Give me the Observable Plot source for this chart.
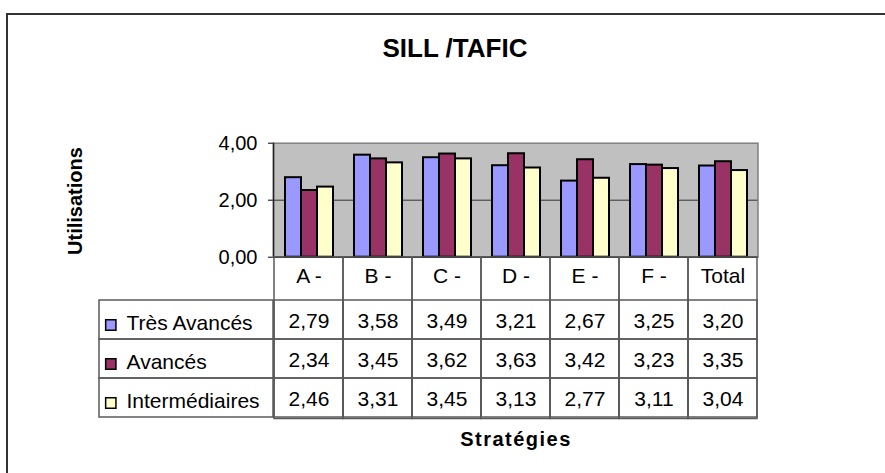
<!DOCTYPE html>
<html>
<head>
<meta charset="utf-8">
<script src="https://cdn.jsdelivr.net/npm/d3@7"></script>
<script src="https://cdn.jsdelivr.net/npm/@observablehq/plot@0.6"></script>
<style>
  html, body { margin: 0; padding: 0; background: #fff; }
  #chart { position: relative; width: 885px; height: 473px; overflow: hidden; background: #fff;
           font-family: 'Liberation Sans', Arial, sans-serif; color: #000; }
  #chart > * { position: absolute; }
  .frameborder { left: 6px; top: 12.7px; width: 900px; height: 500px;
                 border-left: 2px solid #333; border-top: 2px solid #333; box-sizing: border-box; }
  .title { left: 355px; width: 200px; top: 34.7px; text-align: center; font-weight: bold;
           font-size: 26px; line-height: 26px; white-space: nowrap; }
  .ylabel { left: -5px; top: 190.8px; width: 160px; height: 20px; line-height: 20px; text-align: center;
            font-weight: bold; font-size: 20px; transform: rotate(-90deg); transform-origin: 50% 50%; white-space: nowrap; }
  .xlabel { left: 416px; width: 200px; top: 428.8px; text-align: center; font-weight: bold;
            font-size: 20px; line-height: 20px; letter-spacing: 1.5px; white-space: nowrap; }
</style>
</head>
<body>
<div id="chart">
  <div class="frameborder"></div>
  <div class="title">SILL /TAFIC</div>
  <div class="ylabel">Utilisations</div>
  <div class="xlabel">Stratégies</div>
</div>
<script>
const categories = ["A -", "B -", "C -", "D -", "E -", "F -", "Total"];
const series = ["Très Avancés", "Avancés", "Intermédiaires"];
const tresAvances = [2.79, 3.58, 3.49, 3.21, 2.67, 3.25, 3.20];
const avances = [2.34, 3.45, 3.62, 3.63, 3.42, 3.23, 3.35];
const intermediaires = [2.46, 3.31, 3.45, 3.13, 2.77, 3.11, 3.04];
const seriesColors = ["#9999FF", "#993366", "#FFFFCC"];
const yTicks = [0, 2, 4];
const yDomain = [0, 4];

const seriesValues = [tresAvances, avances, intermediaires];
const rows = categories.flatMap((cat, i) =>
  series.map((s, j) => ({cat, series: s, value: seriesValues[j][i]})));
const fmt = v => v.toFixed(2).replace(".", ",");

const W = 885;
const chartH = 300;
const M = {left: 273, right: 127.5, top: 142.7, bottom: 43.3};
const baseStyle = {background: "transparent", fontFamily: "'Liberation Sans', Arial, sans-serif",
                   fontSize: "20px", color: "#000", overflow: "visible"};
const chart = document.getElementById("chart");

// Plot area background, grid, axes
const bg = Plot.plot({
  width: W, height: chartH,
  marginLeft: M.left, marginRight: M.right, marginTop: M.top, marginBottom: M.bottom,
  style: baseStyle,
  x: {domain: [0, 1], axis: null},
  y: {domain: yDomain, ticks: yTicks, tickSize: 5, tickPadding: 11, tickFormat: fmt, label: null},
  marks: [
    Plot.frame({fill: "#C0C0C0", stroke: "#808080", strokeWidth: 1.5}),
    Plot.ruleY([2], {stroke: "#333", strokeWidth: 1}),
    Plot.ruleY([0], {stroke: "#222", strokeWidth: 1.5}),
    Plot.ruleX([0], {stroke: "#222", strokeWidth: 1.5})
  ]
});
bg.style.left = "0px"; bg.style.top = "0px";
chart.appendChild(bg);

// Grouped bars
const bars = Plot.plot({
  width: W, height: chartH,
  marginLeft: M.left, marginRight: M.right, marginTop: M.top, marginBottom: M.bottom,
  style: baseStyle,
  fx: {domain: categories, padding: 0, axis: null},
  x: {domain: series, paddingInner: 0, paddingOuter: 0.6, axis: null},
  y: {domain: yDomain, axis: null},
  color: {domain: series, range: seriesColors},
  marks: [
    Plot.barY(rows, {fx: "cat", x: "series", y: "value", fill: "series",
                     stroke: "#000", strokeWidth: 2, inset: 0})
  ]
});
bars.style.left = "0px"; bars.style.top = "0px";
chart.appendChild(bars);

// Data table
const tH = 166, tTop = 42, tBottom = 4.5;
const gridColor = "#5a5a5a";
const table = Plot.plot({
  width: W, height: tH,
  marginLeft: M.left, marginRight: M.right, marginTop: tTop, marginBottom: tBottom,
  style: baseStyle,
  x: {domain: categories, padding: 0, axis: null},
  y: {domain: series, padding: 0, axis: null},
  marks: [
    Plot.cell(categories, {x: d => d, fill: "none", stroke: gridColor, strokeWidth: 1.5, inset: 0, insetTop: -tTop}),
    Plot.cell(rows, {x: "cat", y: "series", fill: "none", stroke: gridColor, strokeWidth: 1.5, inset: 0}),
    Plot.text(categories, {x: d => d, frameAnchor: "top", lineAnchor: "middle", dy: -23, text: d => d, fontSize: 21}),
    Plot.text(rows, {x: "cat", y: "series", text: d => fmt(d.value), fontSize: 21, dy: 1})
  ]
});
table.style.left = "0px"; table.style.top = "257px";
chart.appendChild(table);

// Legend column of the table
const legend = Plot.plot({
  width: W, height: tH,
  marginLeft: 99, marginRight: W - M.left, marginTop: tTop, marginBottom: tBottom,
  style: baseStyle,
  y: {domain: series, padding: 0, axis: null},
  color: {domain: series, range: seriesColors},
  marks: [
    Plot.cell(series, {y: d => d, fill: "none", stroke: gridColor, strokeWidth: 1.5, inset: 0}),
    Plot.dot(series, {y: d => d, frameAnchor: "left", dx: 11.3, dy: 5, symbol: "square", r: 5.8,
                      fill: d => d, stroke: "#000", strokeWidth: 1.5}),
    Plot.text(series, {y: d => d, frameAnchor: "left", dx: 27, dy: 3, textAnchor: "start",
                       text: d => d, fontSize: 21})
  ]
});
legend.style.left = "0px"; legend.style.top = "257px";
chart.appendChild(legend);
</script>
</body>
</html>
